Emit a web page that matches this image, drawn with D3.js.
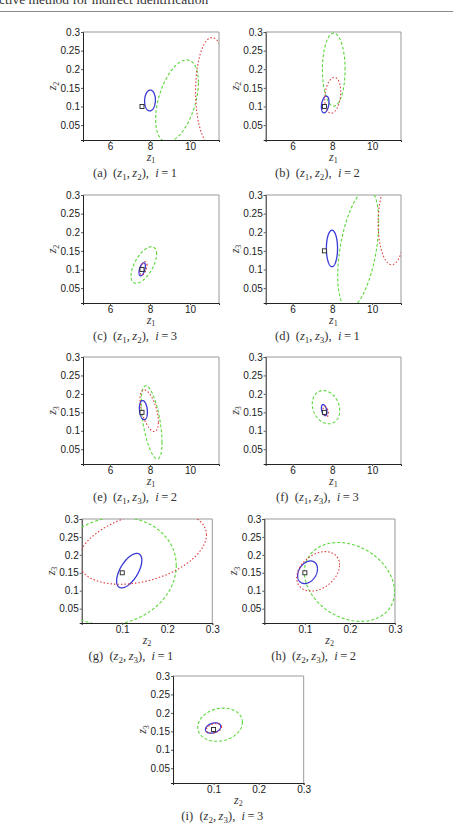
<!DOCTYPE html>
<html>
<head>
<meta charset="utf-8">
<script src="https://d3js.org/d3.v7.min.js"></script>
<style>
  body { margin: 0; background: #fff; }
  svg { display: block; }
  .tick text { font-family: "Liberation Sans", Arial, sans-serif; font-size: 10px; fill: #1a1a1a; }
  .cap, .lab, .head { font-family: "Liberation Serif", "DejaVu Serif", serif; fill: #333; }
</style>
</head>
<body>
<div id="chart"></div>
<script>
// ---- data ----
// each ellipse: [centre x, centre y, half extent x, half extent y, correlation]
var panelLetters = ["a", "b", "c", "d", "e", "f", "g", "h", "i"];
var panelAxes = [["1", "2"], ["1", "2"], ["1", "2"], ["1", "3"], ["1", "3"], ["1", "3"], ["2", "3"], ["2", "3"], ["2", "3"]];
var panelIter = [1, 2, 3, 1, 2, 3, 1, 2, 3];

var truePoints = [[7.6, 0.1], [7.6, 0.1], [7.6, 0.1], [7.6, 0.15], [7.6, 0.15], [7.6, 0.15], [0.1, 0.15], [0.1, 0.15], [0.1, 0.155]];

var blueEllipses = [
  [8.0, 0.116, 0.27, 0.028, 0.05],
  [7.64, 0.1055, 0.19, 0.0225, 0.3],
  [7.61, 0.1005, 0.16, 0.0175, 0.5],
  [7.98, 0.1565, 0.28, 0.049, 0.0],
  [7.67, 0.156, 0.2, 0.026, -0.2],
  [7.59, 0.156, 0.14, 0.015, -0.4],
  [0.1155, 0.156, 0.028, 0.048, 0.6],
  [0.106, 0.1515, 0.022, 0.0315, 0.3],
  [0.099, 0.159, 0.017, 0.014, 0.3]
];
var greenEllipses = [
  [9.35, 0.115, 1.07, 0.11, 0.45],
  [8.07, 0.199, 0.57, 0.098, 0.0],
  [7.69, 0.112, 0.64, 0.049, 0.6],
  [9.3, 0.155, 1.03, 0.16, 0.45],
  [8.08, 0.123, 0.52, 0.099, -0.55],
  [7.68, 0.164, 0.69, 0.045, -0.2],
  [0.08, 0.155, 0.14, 0.15, 0.1],
  [0.199, 0.1245, 0.1, 0.11, -0.25],
  [0.1145, 0.168, 0.0495, 0.045, 0.15]
];
var redEllipses = [
  [11.1, 0.14, 0.82, 0.145, 0.0],
  [8.02, 0.13, 0.4, 0.048, 0.2],
  [7.68, 0.103, 0.17, 0.018, 0.5],
  [10.98, 0.225, 0.68, 0.112, 0.0],
  [7.96, 0.1545, 0.46, 0.0565, -0.55],
  [7.67, 0.1525, 0.14, 0.0135, -0.4],
  [0.145, 0.22, 0.142, 0.102, 0.35],
  [0.1295, 0.154, 0.0475, 0.055, 0.33],
  [0.101, 0.158, 0.017, 0.013, 0.3]
];

var z1Domain = [4.65, 11.45];
var zSmallDomain = [0.01, 0.3];
var z1Ticks = [6, 8, 10];
var z2Ticks = [0.1, 0.2, 0.3];
var yTicks = [0.05, 0.1, 0.15, 0.2, 0.25, 0.3];

// ---- layout ----
var width = 453, height = 831;
var boxes = [
  { x: 83, y: 32, w: 136, h: 108 }, { x: 265.7, y: 32, w: 135.3, h: 108 },
  { x: 83, y: 195, w: 136, h: 108 }, { x: 265.7, y: 195, w: 135.3, h: 108 },
  { x: 83, y: 357, w: 136, h: 107 }, { x: 265.7, y: 357, w: 135.3, h: 107 },
  { x: 81.7, y: 519, w: 130.6, h: 104 }, { x: 264.3, y: 519, w: 130.7, h: 104 },
  { x: 173, y: 676, w: 130.7, h: 107 }
];

var svg = d3.select("#chart").append("svg")
  .attr("width", width)
  .attr("height", height);

// running header, cut at the top of the page
svg.append("text").attr("class", "head")
  .attr("x", -1).attr("y", 3.5)
  .style("font-size", "13.5px")
  .text("ctive method for indirect identification");
svg.append("line")
  .attr("x1", 0).attr("x2", width).attr("y1", 11.5).attr("y2", 11.5)
  .attr("stroke", "#888").attr("stroke-width", 1);

function ellipsePoints(e) {
  var r = Math.sqrt(1 - e[4] * e[4]);
  return d3.range(0, 2 * Math.PI + 0.01, Math.PI / 90).map(function (t) {
    return [e[0] + e[2] * Math.cos(t), e[1] + e[3] * (e[4] * Math.cos(t) + r * Math.sin(t))];
  });
}

function zLabel(sel, idx, sub, shift) {
  sel.append("tspan").style("font-style", "italic").text("z");
  sel.append("tspan").attr("dy", shift).style("font-size", sub).text(idx);
}

panelLetters.forEach(function (letter, i) {
  var b = boxes[i];
  var xIsZ1 = panelAxes[i][0] === "1";

  var x = d3.scaleLinear().domain(xIsZ1 ? z1Domain : zSmallDomain).range([0, b.w]);
  var y = d3.scaleLinear().domain(zSmallDomain).range([b.h, 0]);

  var g = svg.append("g").attr("transform", "translate(" + b.x + "," + b.y + ")");

  g.append("clipPath").attr("id", "clip" + letter)
    .append("rect").attr("width", b.w).attr("height", b.h);

  // frame: light on top/right
  g.append("line").attr("x1", 0).attr("x2", b.w).attr("y1", 0).attr("y2", 0).attr("stroke", "#999");
  g.append("line").attr("x1", b.w).attr("x2", b.w).attr("y1", 0).attr("y2", b.h).attr("stroke", "#999");

  var xAxis = g.append("g").attr("transform", "translate(0," + b.h + ")")
    .call(d3.axisBottom(x).tickValues(xIsZ1 ? z1Ticks : z2Ticks).tickSize(2).tickPadding(1)
      .tickFormat(function (d) { return xIsZ1 ? d : d3.format(".1f")(d); }));
  var yAxis = g.append("g")
    .call(d3.axisLeft(y).tickValues(yTicks).tickSize(2).tickPadding(1).tickFormat(function (d) { return +d.toFixed(2); }));
  [xAxis, yAxis].forEach(function (a) {
    a.select(".domain").attr("stroke", "#222");
    a.selectAll(".tick line").attr("stroke", "#555");
  });

  var line = d3.line().x(function (d) { return x(d[0]); }).y(function (d) { return y(d[1]); });
  var plot = g.append("g").attr("clip-path", "url(#clip" + letter + ")");

  plot.append("path").datum(ellipsePoints(greenEllipses[i])).attr("d", line)
    .attr("fill", "none").attr("stroke", "#5ad83a").attr("stroke-width", 1.1).attr("stroke-dasharray", "3,2");
  plot.append("path").datum(ellipsePoints(blueEllipses[i])).attr("d", line)
    .attr("fill", "none").attr("stroke", "#3a3ad6").attr("stroke-width", 1.3);
  plot.append("path").datum(ellipsePoints(redEllipses[i])).attr("d", line)
    .attr("fill", "none").attr("stroke", "#e03a3a").attr("stroke-width", 1.1).attr("stroke-dasharray", "1.5,2");

  plot.append("rect")
    .attr("x", x(truePoints[i][0]) - 2).attr("y", y(truePoints[i][1]) - 2)
    .attr("width", 4).attr("height", 4)
    .attr("fill", "#fff").attr("stroke", "#222").attr("stroke-width", 0.9);

  // axis labels
  var xl = g.append("text").attr("class", "lab")
    .attr("x", b.w / 2).attr("y", b.h + 20.5)
    .attr("text-anchor", "middle").style("font-size", "12px");
  zLabel(xl, panelAxes[i][0], "8px", 2.5);
  var yl = g.append("text").attr("class", "lab")
    .attr("transform", "translate(-27," + (b.h / 2) + ") rotate(-90)")
    .attr("text-anchor", "middle").style("font-size", "12px");
  zLabel(yl, panelAxes[i][1], "8px", 2.5);

  // caption
  var cap = g.append("text").attr("class", "cap")
    .attr("x", b.w / 2 - 16).attr("y", b.h + 36.5)
    .attr("text-anchor", "middle").style("font-size", "12.5px");
  cap.append("tspan").text("(" + letter + ")\u2002(");
  zLabel(cap, panelAxes[i][0], "9px", 3);
  cap.append("tspan").attr("dy", -3).text(",\u2009");
  zLabel(cap, panelAxes[i][1], "9px", 3);
  cap.append("tspan").attr("dy", -3).text("),\u2002");
  cap.append("tspan").style("font-style", "italic").text("i");
  cap.append("tspan").text("\u2009=\u2009" + panelIter[i]);
});
</script>
</body>
</html>
